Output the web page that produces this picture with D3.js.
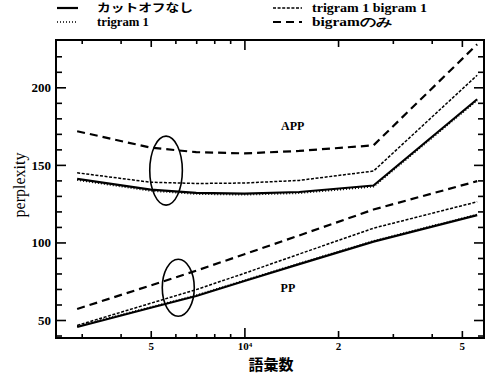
<!DOCTYPE html>
<html>
<head>
<meta charset="utf-8">
<script src="https://cdn.jsdelivr.net/npm/d3@7"></script>
<style>
  html, body { margin: 0; padding: 0; background: #fff; }
  svg { display: block; }
  text { fill: #000; }
</style>
</head>
<body>
<svg id="chart" width="488" height="376"></svg>
<script>
// Vocabulary sizes at which perplexity was measured
const vocab = [2900, 5000, 7000, 10000, 15000, 26000, 56000];

// Adjusted perplexity (APP)
const appNone    = [141.0, 134.0, 132.0, 131.5, 132.5, 136.7, 192.3];
const appTri1    = [140.2, 133.2, 131.2, 130.7, 131.7, 135.9, 191.5];
const appTri1Bi1 = [144.9, 138.8, 138.0, 138.3, 140.0, 146.0, 207.8];
const appBigram  = [171.7, 161.1, 158.2, 157.4, 159.0, 162.6, 227.7];

// Perplexity (PP)
const ppNone     = [45.5, 57.9, 65.5, 75.1, 86.0, 100.5, 117.6];
const ppTri1     = [46.0, 58.4, 66.0, 75.6, 86.5, 101.0, 118.1];
const ppTri1Bi1  = [46.5, 60.8, 69.6, 80.1, 92.5, 109.2, 126.2];
const ppBigram   = [57.1, 72.3, 81.8, 92.4, 104.5, 121.2, 139.5];

// Legend entries
const legendLabels = ["カットオフなし", "trigram 1", "trigram 1 bigram 1", "bigramのみ"];

// Axis ticks
const yMajorTicks = [50, 100, 150, 200];
const yMinorTicks = [40, 60, 70, 80, 90, 110, 120, 130, 140, 160, 170, 180, 190, 210, 220];
const xMajorTicks = [5000, 10000, 20000, 50000];
const xMajorLabels = ["5", "10", "2", "5"];
const xMinorTicks = [3000, 4000, 6000, 7000, 8000, 9000, 30000, 40000];

const svg = d3.select("#chart");
const plotL = 56, plotR = 484, plotT = 40, plotB = 338;

const x = d3.scaleLog().domain([2480, 58900]).range([plotL, plotR]);
const y = d3.scaleLinear().domain([38.4, 230.5]).range([plotB, plotT]);

const serif = "'Liberation Serif', 'Times New Roman', serif";
const jp = "'Noto Sans CJK JP', sans-serif";

// Series styles
const styles = {
  none:    { width: 2.2, dash: null },
  tri1:    { width: 1.6, dash: "1,2" },
  tri1bi1: { width: 1.5, dash: "3,1.6" },
  bigram:  { width: 2.2, dash: "8,5" }
};

const series = [
  { v: appNone, s: "none" }, { v: appTri1, s: "tri1" },
  { v: appTri1Bi1, s: "tri1bi1" }, { v: appBigram, s: "bigram" },
  { v: ppNone, s: "none" }, { v: ppTri1, s: "tri1" },
  { v: ppTri1Bi1, s: "tri1bi1" }, { v: ppBigram, s: "bigram" }
];

const line = d3.line()
  .x((d, i) => x(vocab[i]))
  .y(d => y(d));

svg.append("g").selectAll("path")
  .data(series)
  .join("path")
  .attr("d", d => line(d.v))
  .attr("fill", "none")
  .attr("stroke", "#000")
  .attr("stroke-width", d => styles[d.s].width)
  .attr("stroke-dasharray", d => styles[d.s].dash)
  .attr("stroke-linejoin", "round");

// Axes with inward ticks on all four sides
function styleAxis(g) {
  g.select(".domain").remove();
  g.selectAll(".tick line").attr("stroke", "#000").attr("stroke-width", 1.6);
  g.selectAll("text").attr("font-family", serif).attr("font-weight", "bold")
    .attr("font-size", 13).attr("fill", "#000");
}

svg.append("g").attr("transform", `translate(${plotL},0)`)
  .call(d3.axisLeft(y).tickValues(yMajorTicks).tickSize(-10).tickPadding(5).tickFormat(d3.format("d")))
  .call(styleAxis);
svg.append("g").attr("transform", `translate(${plotL},0)`)
  .call(d3.axisLeft(y).tickValues(yMinorTicks).tickSize(-6).tickFormat(""))
  .call(styleAxis);
svg.append("g").attr("transform", `translate(${plotR},0)`)
  .call(d3.axisRight(y).tickValues(yMajorTicks).tickSize(-10).tickFormat(""))
  .call(styleAxis);
svg.append("g").attr("transform", `translate(${plotR},0)`)
  .call(d3.axisRight(y).tickValues(yMinorTicks).tickSize(-6).tickFormat(""))
  .call(styleAxis);

const xb = svg.append("g").attr("transform", `translate(0,${plotB})`)
  .call(d3.axisBottom(x).tickValues(xMajorTicks).tickSize(-7).tickPadding(3)
    .tickFormat((d, i) => xMajorLabels[i]))
  .call(styleAxis);
xb.selectAll(".tick line").attr("y2", d => d === 10000 ? -10 : -7);
xb.selectAll(".tick text").attr("font-size", 11).attr("dy", "0.8em");
xb.selectAll(".tick").filter(d => d === 10000).select("text")
  .append("tspan").attr("dy", "-0.45em").attr("font-size", 7).text("4");

svg.append("g").attr("transform", `translate(0,${plotB})`)
  .call(d3.axisBottom(x).tickValues(xMinorTicks).tickSize(-4).tickFormat(""))
  .call(styleAxis);
const xt = svg.append("g").attr("transform", `translate(0,${plotT})`)
  .call(d3.axisTop(x).tickValues(xMajorTicks).tickSize(-7).tickFormat(""))
  .call(styleAxis);
xt.selectAll(".tick line").attr("y2", d => d === 10000 ? 10 : 7);
svg.append("g").attr("transform", `translate(0,${plotT})`)
  .call(d3.axisTop(x).tickValues(xMinorTicks).tickSize(-4).tickFormat(""))
  .call(styleAxis);

// Plot frame
svg.append("rect")
  .attr("x", plotL).attr("y", plotT)
  .attr("width", plotR - plotL).attr("height", plotB - plotT)
  .attr("fill", "none").attr("stroke", "#000").attr("stroke-width", 2);

// Axis titles
svg.append("text")
  .attr("transform", `translate(19,${(plotT + plotB) / 2 - 4}) rotate(-90)`)
  .attr("text-anchor", "middle").attr("dominant-baseline", "central")
  .attr("font-family", serif).attr("font-size", 16)
  .text("perplexity");

svg.append("text")
  .attr("x", (plotL + plotR) / 2 + 1).attr("y", 370)
  .attr("text-anchor", "middle")
  .attr("font-family", jp).attr("font-weight", "bold").attr("font-size", 15)
  .text("語彙数");

// Group annotations
svg.append("text")
  .attr("x", x(14300)).attr("y", y(172.5))
  .attr("text-anchor", "middle")
  .attr("font-family", serif).attr("font-weight", "bold").attr("font-size", 12)
  .text("APP");
svg.append("text")
  .attr("x", x(13800)).attr("y", y(68.3))
  .attr("text-anchor", "middle")
  .attr("font-family", serif).attr("font-weight", "bold").attr("font-size", 12)
  .text("PP");

svg.append("ellipse")
  .attr("cx", x(5600)).attr("cy", y(146.3))
  .attr("rx", 16.3).attr("ry", 34.5)
  .attr("fill", "none").attr("stroke", "#000").attr("stroke-width", 1.6);
svg.append("ellipse")
  .attr("cx", x(6130)).attr("cy", y(70.8))
  .attr("rx", 16).attr("ry", 28.5)
  .attr("fill", "none").attr("stroke", "#000").attr("stroke-width", 1.6);

// Legend
const legendItems = [
  { label: legendLabels[0], s: "none",    lx: 57,  ty: 8,  tx: 97,  w: 96 },
  { label: legendLabels[1], s: "tri1",    lx: 57,  ty: 22, tx: 97,  w: 52 },
  { label: legendLabels[2], s: "tri1bi1", lx: 273, ty: 8,  tx: 312, w: 115 },
  { label: legendLabels[3], s: "bigram",  lx: 273, ty: 22, tx: 312, w: 80 }
];
const lg = svg.append("g");
legendItems.forEach(d => {
  const len = d.lx < 100 ? 21 : 29;
  lg.append("line")
    .attr("x1", d.lx).attr("x2", d.lx + len)
    .attr("y1", d.ty).attr("y2", d.ty)
    .attr("stroke", "#000")
    .attr("stroke-width", styles[d.s].width)
    .attr("stroke-dasharray", styles[d.s].dash);
  const isJp = !/[a-z]/.test(d.label);
  lg.append("text")
    .attr("x", d.tx).attr("y", d.ty + 4)
    .attr("font-family", isJp ? jp : serif)
    .attr("font-weight", "bold").attr("font-size", isJp ? 11 : 11.5)
    .attr("textLength", d.w).attr("lengthAdjust", "spacingAndGlyphs")
    .text(d.label);
});
</script>
</body>
</html>
